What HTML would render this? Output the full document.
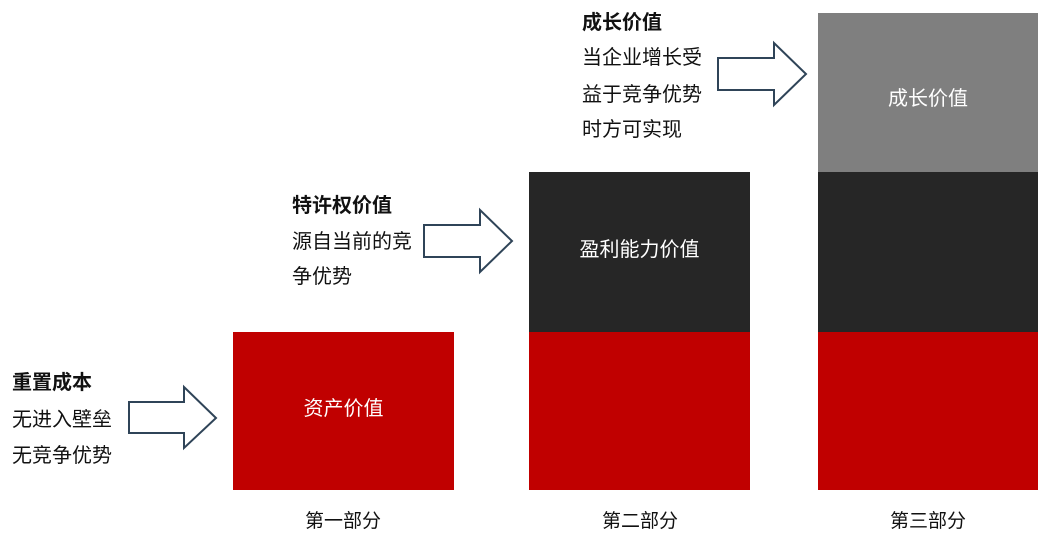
<!DOCTYPE html>
<html><head><meta charset="utf-8"><style>
body{margin:0;width:1047px;height:540px;background:#fff;position:relative;overflow:hidden;font-family:"Liberation Sans","Noto Sans CJK SC",sans-serif;}
.b{position:absolute;display:flex;align-items:center;justify-content:center;color:#fff;font-size:20px;box-sizing:border-box;}
.t{position:absolute;font-size:20px;line-height:20px;color:#111;white-space:nowrap;}
.lb{position:absolute;font-size:19px;color:#111;width:200px;text-align:center;line-height:20px;}
</style></head><body>
<div class="b" style="left:233px;top:332px;width:221px;height:158px;background:#c00000;padding-bottom:10px">资产价值</div>
<div class="b" style="left:529px;top:172px;width:221px;height:160px;background:#262626;padding-bottom:10px">盈利能力价值</div>
<div class="b" style="left:529px;top:332px;width:221px;height:158px;background:#c00000"></div>
<div class="b" style="left:818px;top:13px;width:220px;height:159px;background:#7f7f7f;padding-top:8px">成长价值</div>
<div class="b" style="left:818px;top:172px;width:220px;height:160px;background:#262626"></div>
<div class="b" style="left:818px;top:332px;width:220px;height:158px;background:#c00000"></div>
<div class="lb" style="left:243px;top:512px">第一部分</div>
<div class="lb" style="left:540px;top:512px">第二部分</div>
<div class="lb" style="left:828px;top:512px">第三部分</div>
<div class="t" style="left:12px;top:373px;font-weight:bold">重置成本</div>
<div class="t" style="left:12px;top:410px">无进入壁垒</div>
<div class="t" style="left:12px;top:446px">无竞争优势</div>
<div class="t" style="left:292px;top:196px;font-weight:bold">特许权价值</div>
<div class="t" style="left:292px;top:232px">源自当前的竞</div>
<div class="t" style="left:292px;top:267px">争优势</div>
<div class="t" style="left:582px;top:13px;font-weight:bold">成长价值</div>
<div class="t" style="left:582px;top:48px">当企业增长受</div>
<div class="t" style="left:582px;top:85px">益于竞争优势</div>
<div class="t" style="left:582px;top:120px">时方可实现</div>
<svg width="1047" height="540" style="position:absolute;left:0;top:0">
<g fill="#fff" stroke="#2f4458" stroke-width="2">
<polygon points="129,402 184,402 184,387 216,418 184,448 184,433 129,433"/>
<polygon points="424,225 480,225 480,210 512,241 480,272 480,257 424,257"/>
<polygon points="718,58 774,58 774,43 806,74 774,105 774,90 718,90"/>
</g></svg>
</body></html>
